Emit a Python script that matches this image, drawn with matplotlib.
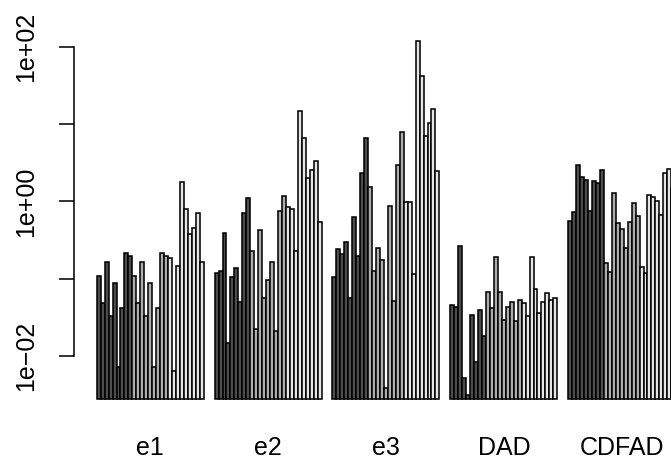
import numpy as np
import matplotlib
matplotlib.use("Agg")
import matplotlib.pyplot as plt

plt.rcParams['font.family'] = ['Liberation Sans', 'DejaVu Sans']

# ---- data ----
groups = ["e1", "e2", "e3", "DAD", "CDFAD"]

e1 = [0.108, 0.0479, 0.1654, 0.0331, 0.0885, 0.00725, 0.0420, 0.216, 0.198,
      0.108, 0.0479, 0.1654, 0.0331, 0.0885, 0.00725, 0.0420, 0.216, 0.198,
      0.183, 0.00643, 0.1469, 1.793, 0.795, 0.3776, 0.4555, 0.6995, 0.1625]
e2 = [0.1171, 0.1254, 0.3925, 0.01482, 0.1058, 0.1359, 0.0503, 0.6995, 1.113,
      0.2275, 0.0221, 0.4253, 0.0566, 0.0959, 0.1625, 0.0212, 0.749, 1.171,
      0.851, 0.795, 0.2275, 14.73, 6.53, 1.984, 2.54, 3.35, 0.535]
e3 = [0.1058, 0.2415, 0.208, 0.300, 0.0556, 0.632, 0.196, 2.303, 6.53,
      1.545, 0.1254, 0.2466, 0.174, 0.00381, 0.877, 0.0513, 2.949, 7.95,
      0.971, 0.971, 0.1136, 119.6, 41.8, 6.996, 10.21, 15.63, 2.466]
dad = [0.0456, 0.0433, 0.2665, 0.00522, 0.00312, 0.0338, 0.00841, 0.0393, 0.01826,
       0.0665, 0.0413, 0.192, 0.0665, 0.0291, 0.0433, 0.0503, 0.0283, 0.0529,
       0.0488, 0.0328, 0.192, 0.0727, 0.0362, 0.0503, 0.0645, 0.0529, 0.0556]
cdfad = [0.556, 0.7207, 2.949, 2.081, 1.886, 0.756, 1.847, 1.71, 2.54,
         0.1606, 0.1228, 1.292, 0.5287, 0.4382, 0.2466, 0.535, 0.942, 0.651,
         0.1425, 0.1192, 1.206, 1.147, 1.009, 0.665, 2.303, 2.617, 1.5]

series = [e1, e2, e3, dad, cdfad]
palette = ["#4D4D4D", "#AEAEAE", "#E6E6E6"]
colors = [c for c in palette for _ in range(9)]

ytick_vals = [1e-2, 1e-1, 1e0, 1e1, 1e2]
ytick_labels = ["1e\u221202", "", "1e+00", "", "1e+02"]

# ---- layout ----
W, H, DPI = 671, 461, 150
fig = plt.figure(figsize=(W / DPI, H / DPI), dpi=DPI)
ax = fig.add_axes([0.10963, 0.1043, 0.9311, 0.8384])

n = len(e1)
gap = 2.77
period = n + gap
allv = np.concatenate([np.asarray(s, float) for s in series])
base = 0.9 * allv.min()

for g, vals in enumerate(series):
    x = g * period + np.arange(n) + 0.5
    v = np.asarray(vals, float)
    ax.bar(x, v - base, bottom=base, width=1.0, color=colors,
           edgecolor="black", linewidth=0.75)

ax.set_yscale("log")
lo, hi = np.log10(base), np.log10(allv.max())
d = 0.04 * (hi - lo)
ax.set_ylim(10 ** (lo - d), 10 ** (hi + d))
total = (len(series) - 1) * period + n
ax.set_xlim(-0.04 * total, total * 1.04)

for s in ["top", "right", "bottom"]:
    ax.spines[s].set_visible(False)
ax.spines["left"].set_bounds(1e-2, 1e2)
ax.spines["left"].set_linewidth(0.75)

ax.set_yticks(ytick_vals)
ax.set_yticklabels(ytick_labels, rotation=90, va="center", ha="right", fontsize=12)
ax.yaxis.set_minor_locator(matplotlib.ticker.NullLocator())
ax.tick_params(axis="y", length=7.2, width=0.75, pad=9.7)

ax.set_xticks([g * period + n / 2 for g in range(len(series))])
ax.set_xticklabels(groups, fontsize=12)
ax.tick_params(axis="x", length=0, pad=11.3)

ax.patch.set_visible(False)
fig.savefig("out.png", dpi=DPI)
